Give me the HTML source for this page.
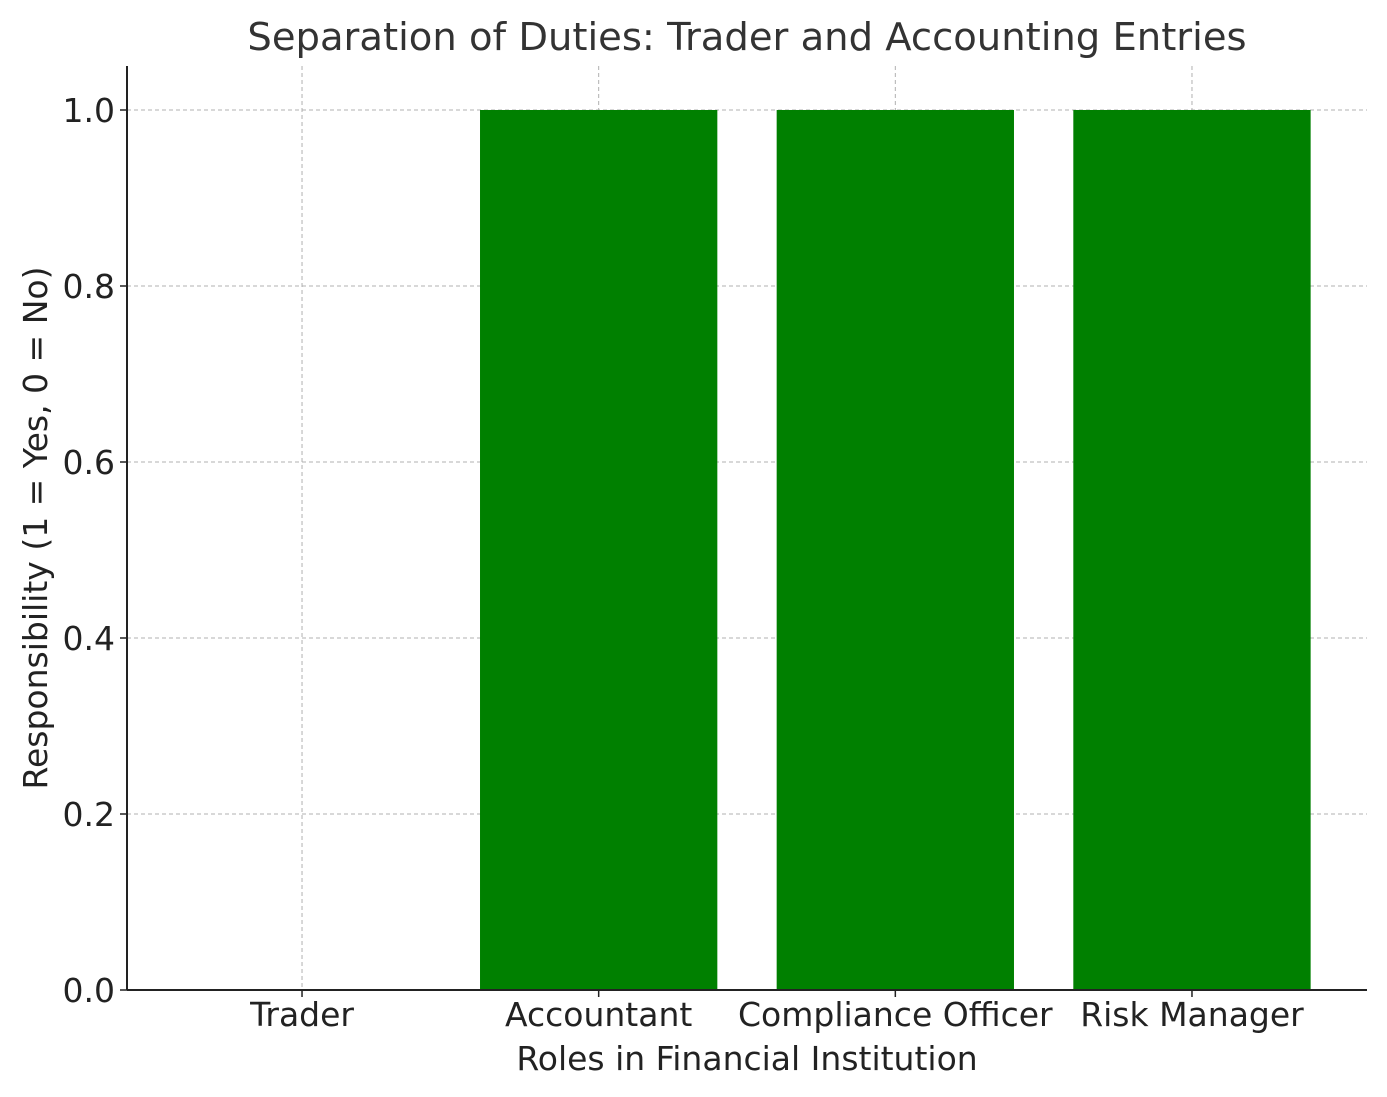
<!DOCTYPE html>
<html><head><meta charset="utf-8"><style>
body{margin:0;background:#fff}
svg{display:block;font-family:"DejaVu Sans","Liberation Sans",sans-serif}
</style></head><body>
<svg id="chart" width="1387" height="1097">
<text x="747" y="50" font-size="38.5" fill="#333" text-anchor="middle">Separation of Duties: Trader and Accounting Entries</text>
<g id="grid"></g><g id="bars"></g><g id="axes"></g>
<text x="747" y="1070" font-size="33" fill="#222" text-anchor="middle">Roles in Financial Institution</text>
<text transform="translate(47,528) rotate(-90)" font-size="33" fill="#222" text-anchor="middle">Responsibility (1 = Yes, 0 = No)</text>
</svg>
<script>
const categories=["Trader","Accountant","Compliance Officer","Risk Manager"];
const values=[0,1,1,1];
const yTicks=[0,0.2,0.4,0.6,0.8,1.0];
const yTickLabels=["0.0","0.2","0.4","0.6","0.8","1.0"];
const L=127,R=1367,B=990,T=66;
const xmin=-0.59,xmax=categories.length-1+0.59,ymax=1.05;
const xs=i=>L+(i-xmin)/(xmax-xmin)*(R-L);
const ys=v=>B-v/ymax*(B-T);
const NS="http://www.w3.org/2000/svg";
function mk(tag,attrs,parent,text){const e=document.createElementNS(NS,tag);for(const k in attrs)e.setAttribute(k,attrs[k]);if(text!==undefined)e.textContent=text;document.getElementById(parent).appendChild(e);return e;}
const bw=(xs(0.8)-xs(0));
values.forEach((v,i)=>{
 const r=mk('rect',{x:xs(i)-bw/2,y:ys(v),width:bw,height:B-ys(v),fill:'#008000'},'bars');
 
 
});
yTicks.forEach((t,i)=>{
 const g=mk('line',{x1:L,x2:R,y1:ys(t),y2:ys(t),stroke:'#b0b0b0','stroke-width':1,'stroke-dasharray':'4,3'},'grid');
 
 
 mk('line',{x1:L-7,x2:L,y1:ys(t),y2:ys(t),stroke:'#222','stroke-width':1.5},'axes');
 const tx=mk('text',{x:L-12,y:ys(t)+12,'font-size':33,fill:'#222','text-anchor':'end'},'axes',yTickLabels[i]);
 
 
});
categories.forEach((c,i)=>{
 const g=mk('line',{x1:xs(i),x2:xs(i),y1:T,y2:B,stroke:'#b0b0b0','stroke-width':1,'stroke-dasharray':'4,3'},'grid');
 
 
 mk('line',{x1:xs(i),x2:xs(i),y1:B,y2:B+7,stroke:'#222','stroke-width':1.5},'axes');
 const tx=mk('text',{x:xs(i),y:B+36,'font-size':33,fill:'#222','text-anchor':'middle'},'axes',c);
 
 
});
const ya=mk('line',{x1:L,x2:L,y1:T,y2:B,stroke:'#222','stroke-width':2},'axes');


const xa=mk('line',{x1:L,x2:R,y1:B,y2:B,stroke:'#222','stroke-width':2},'axes');


</script>
</body></html>
